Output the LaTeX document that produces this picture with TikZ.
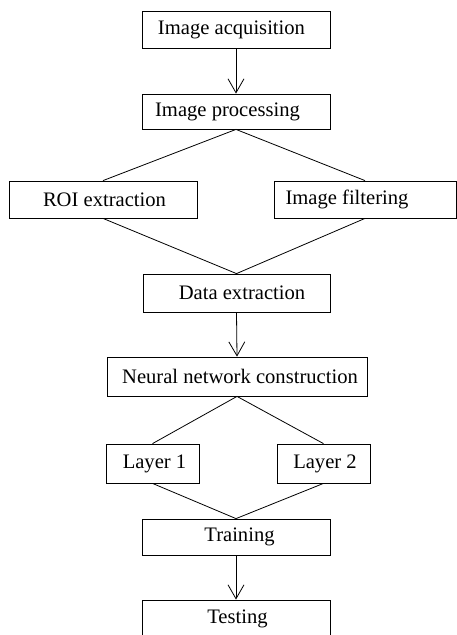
\documentclass[tikz,border=0pt]{standalone}
\usepackage{fontspec}
\setmainfont{Liberation Serif}
\usetikzlibrary{arrows.meta}
\begin{document}
\begin{tikzpicture}[x=1pt,y=-1pt,
  box/.style={draw,line width=0.8pt,inner sep=0pt,minimum width=188pt,minimum height=37pt},
  txt/.style={font=\fontsize{20.6}{24}\selectfont},
  conn/.style={line width=0.8pt},
  arr/.style={line width=0.8pt,-{Straight Barb[length=14pt,width=16pt,line width=0.8pt]}}]
\useasboundingbox (0,0) rectangle (457,635);
\clip (0,0) rectangle (457,635);
\node[box] (acq) at (236,29.5) {};
\node[txt] (tacq) at (231.5,29.5) {Image acquisition};
\node[box,minimum height=35pt] (proc) at (236,111.5) {};
\node[txt] (tproc) at (227.5,111.5) {Image processing};
\node[box] (roi) at (103,199.5) {};
\node[txt] (troi) at (104.5,199.5) {ROI extraction};
\node[box,minimum width=182pt] (filt) at (365,199.5) {};
\node[txt] (tfilt) at (347,199.5) {Image filtering};
\node[box,minimum width=187pt,minimum height=38pt] (data) at (236.5,293) {};
\node[txt] (tdata) at (242,293) {Data extraction};
\node[box,minimum width=260pt,minimum height=39pt] (nn) at (237,376.5) {};
\node[txt] (tnn) at (240,376.5) {Neural network construction};
\node[box,minimum width=93pt,minimum height=39pt] (l1) at (152.5,463.5) {};
\node[txt] (tl1) at (154.5,463.5) {Layer 1};
\node[box,minimum width=93pt,minimum height=39pt] (l2) at (323.5,463.5) {};
\node[txt] (tl2) at (325,463.5) {Layer 2};
\node[box,minimum height=36pt] (train) at (236,537) {};
\node[txt] (ttrain) at (239.5,537) {Training};
\node[box] (test) at (236,618.5) {};
\node[txt] (ttest) at (237.5,618.5) {Testing};
\draw[arr] (acq.south) -- (proc.north);
\draw[conn] (roi.north) -- (proc.south) -- (filt.north);
\draw[conn] (roi.south) -- (data.north) -- (filt.south);
\draw[arr] (data.south) -- (nn.north);
\draw[conn] (l1.north) -- (nn.south) -- (l2.north);
\draw[conn] (l1.south) -- (train.north) -- (l2.south);
\draw[arr] (train.south) -- (test.north);
\end{tikzpicture}
\end{document}
